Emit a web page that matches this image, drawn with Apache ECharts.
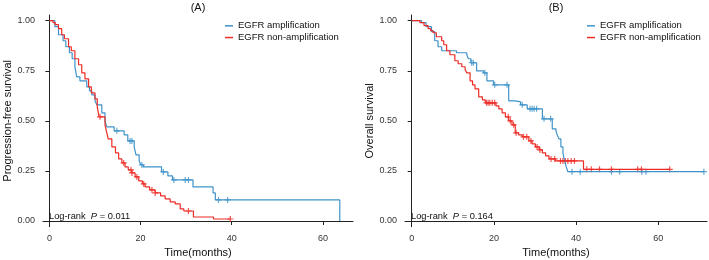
<!DOCTYPE html>
<html lang="en">
<head>
<meta charset="UTF-8" />
<title>EGFR survival</title>
<script src="https://cdn.jsdelivr.net/npm/echarts@6/dist/echarts.min.js"></script>
</head>
<body style="margin:0">
<div id="main" style="width:709px;height:260px"></div>
<script>
var groups = ['EGFR amplification', 'EGFR non-amplification'];
var panelTitles = ['(A)', '(B)'];
var yNames = ['Progression-free survival', 'Overall survival'];
var xName = 'Time(months)';
var pValues = ['0.011', '0.164'];
var xTicks = [0, 20, 40, 60];
var yTicks = [0, 0.25, 0.5, 0.75, 1];

// KM steps: [time, survival after the drop]
var pfsAmpSteps = [[0,1],[1.2,0.97],[2,0.93],[3,0.9],[3.6,0.87],[4.4,0.84],[5,0.81],[5.6,0.77],[6,0.72],[6.7,0.7],[8.2,0.67],[8.8,0.65],[9.3,0.63],[10,0.6],[10.4,0.58],[11.5,0.54],[12.2,0.5],[12.6,0.47],[14.2,0.45],[16.4,0.43],[17.2,0.4],[18.6,0.37],[19,0.33],[19.7,0.3],[20.1,0.28],[20.6,0.27],[24.6,0.245],[26,0.225],[27,0.205],[31.5,0.17],[35.9,0.14],[36.4,0.105],[63.7,0]];
var pfsAmpCensor = [14.8,17.7,18.1,20.3,25,27.3,29.8,30.5,37.1,39.1];

var pfsNonSteps = [[0,1],[0.8,0.99],[1.3,0.98],[2,0.96],[2.7,0.93],[3.3,0.91],[4.2,0.87],[4.8,0.85],[5.6,0.81],[6.4,0.78],[7.1,0.74],[7.8,0.71],[8.6,0.67],[9.2,0.64],[10,0.61],[10.5,0.57],[10.9,0.52],[12.2,0.48],[12.6,0.44],[12.9,0.41],[13.7,0.37],[14.5,0.34],[15.2,0.31],[15.9,0.29],[16.6,0.27],[17.3,0.255],[18.1,0.24],[18.8,0.22],[19.6,0.2],[20.4,0.185],[21,0.17],[22,0.155],[23.2,0.14],[24.4,0.125],[25.4,0.11],[26.5,0.095],[27.6,0.085],[28.7,0.06],[29.5,0.05],[31.6,0.02],[36,0.01]];
var pfsNonCensor = [11.1,16.3,17.9,18.1,19.2,20.7,22.5,23.2,30.5,39.7];

var osAmpSteps = [[0,1],[2.4,0.99],[3.5,0.97],[4.8,0.945],[5.6,0.9],[6.4,0.87],[7.3,0.85],[10.9,0.84],[13.4,0.83],[13.8,0.81],[14.4,0.79],[15.8,0.75],[17.5,0.74],[18.3,0.7],[19.9,0.68],[23.6,0.6],[25.2,0.595],[26.5,0.58],[28.1,0.56],[31.8,0.51],[34.2,0.46],[35.1,0.45],[35.4,0.43],[35.8,0.41],[36.3,0.37],[36.8,0.34],[37.2,0.3],[37.6,0.27],[38,0.246]];
var osAmpCensor = [14.6,15,17.8,20.2,23.2,26.9,28.8,29.3,29.8,30.4,32.2,33.8,39,41,48.6,50.6,56,57,71.1];

var osNonSteps = [[0,1],[2,0.99],[3,0.975],[4,0.96],[4.6,0.95],[5.2,0.94],[6,0.92],[7.3,0.9],[7.8,0.88],[8.5,0.85],[9.3,0.83],[10.5,0.8],[11.3,0.785],[12.2,0.77],[13,0.755],[13.4,0.74],[14.2,0.7],[14.8,0.68],[15.4,0.66],[16.3,0.62],[17.2,0.605],[17.9,0.59],[20.5,0.575],[21.2,0.56],[22,0.54],[22.8,0.52],[23.6,0.5],[24.4,0.48],[25.2,0.44],[26,0.43],[26.9,0.42],[28.5,0.4],[29.3,0.385],[30.1,0.37],[31,0.355],[31.8,0.34],[32.6,0.325],[33.4,0.31],[35,0.3],[41.8,0.258]];
var osNonCensor = [18.2,18.6,19,19.6,20.2,23.5,24,24.8,25.4,27.2,28,29,30.5,31.2,33.9,34.8,36.2,36.8,37.4,38,38.8,39.6,42.6,43.7,45.7,48.6,55,55.9,62.8];

var colors = ['#3f93c9', '#ee2b25'];
var font = 'Liberation Sans, Arial, sans-serif';

function survAt(steps, t) {
    var s = 1;
    for (var i = 0; i < steps.length; i++) {
        if (steps[i][0] <= t) s = steps[i][1];
    }
    return s;
}

function lineData(steps, censor) {
    var data = steps.slice();
    var last = Math.max.apply(null, censor);
    if (last > steps[steps.length - 1][0]) data.push([last, survAt(steps, last)]);
    return data;
}

function censorData(steps, censor) {
    return censor.map(function (t) { return [t, survAt(steps, t)]; });
}

var panels = [
    { steps: [pfsAmpSteps, pfsNonSteps], censor: [pfsAmpCensor, pfsNonCensor], left: 43, width: 310, xmin: -1.4, xmax: 66.6, legendLeft: 225 },
    { steps: [osAmpSteps, osNonSteps], censor: [osAmpCensor, osNonCensor], left: 405, width: 302, xmin: -1.63, xmax: 71.85, legendLeft: 587 }
];

var plus = 'path://M4,0H6V4H10V6H6V10H4V6H0V4H4Z';
var grids = [], xAxes = [], yAxes = [], series = [], legends = [], graphics = [];

panels.forEach(function (p, k) {
    grids.push({ left: p.left, top: 15, width: p.width, height: 211.7, containLabel: false, outerBoundsMode: 'none' });
    xAxes.push({
        gridIndex: k, type: 'value', min: p.xmin, max: p.xmax,
        name: xName, nameLocation: 'middle', nameGap: 19,
        nameTextStyle: { fontFamily: font, fontSize: 11, color: '#111' },
        axisLine: { lineStyle: { color: '#222', width: 1 } },
        axisTick: { customValues: xTicks, length: 4, lineStyle: { color: '#222' } },
        axisLabel: { customValues: xTicks, margin: 7, fontFamily: font, fontSize: 9, color: '#333' },
        splitLine: { show: false }
    });
    yAxes.push({
        gridIndex: k, type: 'value', min: -0.0285, max: 1.0285,
        name: yNames[k], nameLocation: 'middle', nameGap: 30,
        nameTextStyle: { fontFamily: font, fontSize: 11, color: '#111' },
        axisLine: { show: true, lineStyle: { color: '#222', width: 1 } },
        axisTick: { show: true, customValues: yTicks, length: 4, lineStyle: { color: '#222' } },
        axisLabel: { customValues: yTicks, margin: 8, fontFamily: font, fontSize: 9, color: '#333',
            formatter: function (v) { return v.toFixed(2); } },
        splitLine: { show: false }
    });
    for (var g = 0; g < 2; g++) {
        series.push({
            name: groups[g], type: 'line', step: 'end', xAxisIndex: k, yAxisIndex: k,
            data: lineData(p.steps[g], p.censor[g]), symbol: 'none', showSymbol: false,
            itemStyle: { color: colors[g] }, lineStyle: { color: colors[g], width: 1.2 }
        });
        series.push({
            name: 'censor' + k + g, type: 'scatter', xAxisIndex: k, yAxisIndex: k,
            data: censorData(p.steps[g], p.censor[g]), symbol: plus, symbolSize: 6,
            itemStyle: { color: colors[g] }, silent: true
        });
    }
    legends.push({
        data: groups, orient: 'vertical', left: p.legendLeft, top: 20, padding: 0, itemGap: 0,
        icon: 'rect', itemWidth: 8, itemHeight: 1.5, selectedMode: false,
        textStyle: { fontFamily: font, fontSize: 9.5, color: '#111', lineHeight: 11.7 }
    });
    graphics.push({
        type: 'text', x: p.left + p.width / 2, y: 7.5,
        style: { text: panelTitles[k], fontFamily: font, fontSize: 11, fill: '#111', align: 'center', verticalAlign: 'middle' }
    });
    graphics.push({
        type: 'text', x: p.left + 6, y: 216,
        style: {
            text: 'Log-rank  {i|P} = ' + pValues[k], fontFamily: font, fontSize: 9.3, fill: '#111', verticalAlign: 'middle',
            rich: { i: { fontStyle: 'italic', fontFamily: font, fontSize: 9.3, fill: '#111' } }
        }
    });
});

var chart = echarts.init(document.getElementById('main'));
chart.setOption({
    animation: false,
    backgroundColor: '#fff',
    grid: grids,
    xAxis: xAxes,
    yAxis: yAxes,
    legend: legends,
    series: series,
    graphic: graphics
});
</script>
</body>
</html>
